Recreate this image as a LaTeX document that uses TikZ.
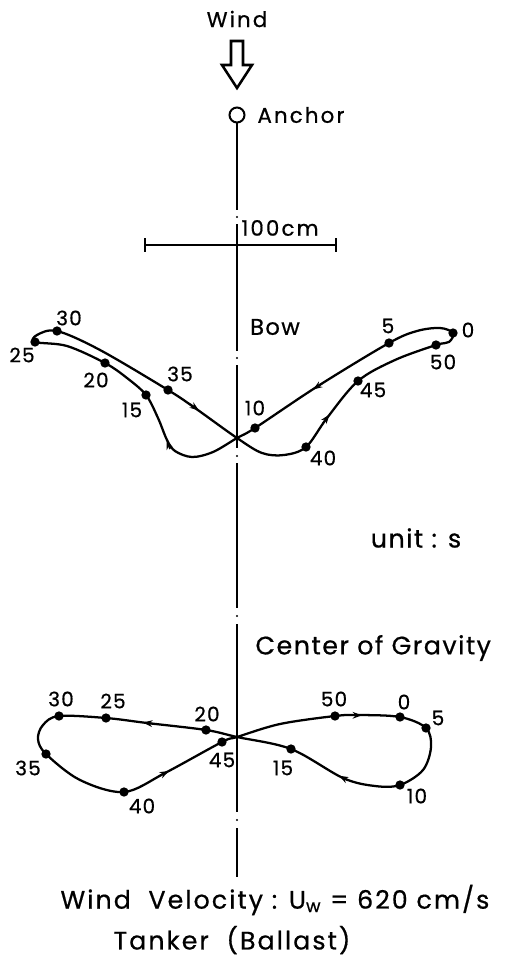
\documentclass[tikz,border=0pt]{standalone}
\usepackage{fontspec}
\setmainfont[LetterSpace=6,FakeBold=0.6]{Poppins}
\usetikzlibrary{arrows.meta}

\tikzset{every picture/.style={line width=0.75pt}}
\tikzset{
  track/.style={line width=1.7pt, line join=round},
  axisline/.style={line width=1.5pt},
  stamp/.style={circle, fill=black, inner sep=0pt, minimum size=7pt},
  tlabel/.style={font=\fontsize{15}{15}\selectfont, inner sep=0pt},
  heading/.style={font=\fontsize{16}{16}\selectfont\addfontfeature{LetterSpace=10}, inner sep=0pt},
  caption/.style={font=\fontsize{19}{19}\selectfont, inner sep=0pt},
  footline/.style={font=\fontsize{19}{19}\selectfont\addfontfeature{LetterSpace=8}, inner sep=0pt, anchor=west},
  flowtip/.style={line width=1.2pt, -{Stealth[length=7pt,width=5pt]}},
}

\begin{document}
\begin{tikzpicture}[x=0.75pt,y=0.75pt,yscale=-1,xscale=1]
\useasboundingbox (0,0) rectangle (508,963);

% Text Node
\node [heading] (wind) at (237,19) {Wind};
%Shape: Hollow arrow
\draw [line width=1.9pt, line join=miter] (231,41) -- (243,41) -- (243,65) -- (252,65) -- (237,88) -- (222,65) -- (231,65) -- cycle ;
%Shape: Circle
\draw [line width=1.5pt] (237,115) circle (7.5) ;
% Text Node
\node [heading, anchor=west] (anchor) at (257,115) {Anchor};

%Center line (dash dot)
\draw [axisline] (237,123) -- (237,210) (237,224) -- (237,351) (237,365) -- (237,448) (237,463) -- (237,608) (237,624) -- (237,812) (237,828) -- (237,877) ;
\foreach \yy in {217,358,456,616,820}
  \fill (237,\yy) circle (1.2) ;

%Scale bar
\draw [line width=1.6pt] (145,245) -- (336,245) (145,238) -- (145,252) (336,238) -- (336,252) ;
% Text Node
\node [heading, anchor=west] (scale) at (241,228) {100cm};

% Text Node
\node [font=\fontsize{17}{17}\selectfont, inner sep=0pt] (bow) at (275,327) {Bow};

% Bow track
\coordinate (b0) at (453,333);
\coordinate (b5) at (389,343);
\coordinate (b10) at (255,428);
\coordinate (b15) at (146,395);
\coordinate (b20) at (105,363);
\coordinate (b25) at (35,342);
\coordinate (b30) at (57,331);
\coordinate (b35) at (168,390);
\coordinate (b40) at (306,447);
\coordinate (b45) at (358,381);
\coordinate (b50) at (436,345);
\draw [track] plot [smooth cycle, tension=0.55] coordinates {(b0) (440,328) (417,331) (b5) (318,386) (b10) (237,438) (213,452) (192,457) (175,451) (167,440) (158,418) (b15) (127,378) (b20) (67,346) (b25) (37,335) (b30) (100,350) (b35) (195,408) (237,438) (262,453) (284,455) (b40) (327,418) (b45) (395,360) (b50) (449,342)};
\draw [flowtip] (322,383.5) -- (313,389.5) ;
\draw [flowtip] (190,404) -- (199,410.5) ;
\draw [flowtip] (170,449) -- (166.5,440) ;
\draw [flowtip] (323,423) -- (329.5,414.5) ;
\foreach \t in {0,5,10,15,20,25,30,35,40,45,50}
  \node [stamp] at (b\t) {};
% Text Node
\node [tlabel] (lb0) at (468,330) {0};
\node [tlabel] (lb5) at (388,326) {5};
\node [tlabel] (lb10) at (255,408) {10};
\node [tlabel] (lb15) at (132,410) {15};
\node [tlabel] (lb20) at (96,380) {20};
\node [tlabel] (lb25) at (22,355) {25};
\node [tlabel] (lb30) at (69,318) {30};
\node [tlabel] (lb35) at (180,374) {35};
\node [tlabel] (lb40) at (323,458) {40};
\node [tlabel] (lb45) at (373,390) {45};
\node [tlabel] (lb50) at (443,362) {50};

% Text Node
\node [caption] (unit) at (416,538) {unit : s};
% Text Node
\node [caption, anchor=west] (cog) at (255,648) {Center of Gravity};

% Center of gravity track
\coordinate (c0) at (400,717);
\coordinate (c5) at (426,728);
\coordinate (c10) at (400,785);
\coordinate (c15) at (291,749);
\coordinate (c20) at (206,730);
\coordinate (c25) at (106,718);
\coordinate (c30) at (59,716);
\coordinate (c35) at (46,754);
\coordinate (c40) at (124,792);
\coordinate (c45) at (222,742);
\coordinate (c50) at (335,716);
\draw [track] plot [smooth cycle, tension=0.55] coordinates {(c0) (c5) (431,747) (423,770) (c10) (375,786) (343,778) (c15) (237,737) (c20) (147,723) (c25) (c30) (43,725) (38,739) (c35) (80,780) (c40) (165,773) (c45) (237,737) (280,724) (c50) (358,715)};
\draw [flowtip] (153,723.7) -- (143,722.5) ;
\draw [flowtip] (160,775.5) -- (169,771) ;
\draw [flowtip] (352,715.3) -- (362,715.3) ;
\draw [flowtip] (348,780.5) -- (339,775.7) ;
\foreach \t in {0,5,10,15,20,25,30,35,40,45,50}
  \node [stamp] at (c\t) {};
% Text Node
\node [tlabel] (lc0) at (404,702) {0};
\node [tlabel] (lc5) at (438,718) {5};
\node [tlabel] (lc10) at (417,796) {10};
\node [tlabel] (lc15) at (283,768) {15};
\node [tlabel] (lc20) at (207,714) {20};
\node [tlabel] (lc25) at (113,701) {25};
\node [tlabel] (lc30) at (61,699) {30};
\node [tlabel] (lc35) at (28,768) {35};
\node [tlabel] (lc40) at (142,806) {40};
\node [tlabel] (lc45) at (222,760) {45};
\node [tlabel] (lc50) at (334,699) {50};

% Text Node
\node [footline] (velocity) at (60,900) {Wind\ \ Velocity : U\textsubscript{w} = 620 cm/s};
% Text Node
\node [footline] (tanker) at (113,940) {Tanker\ \ (Ballast)};

\end{tikzpicture}
\end{document}
